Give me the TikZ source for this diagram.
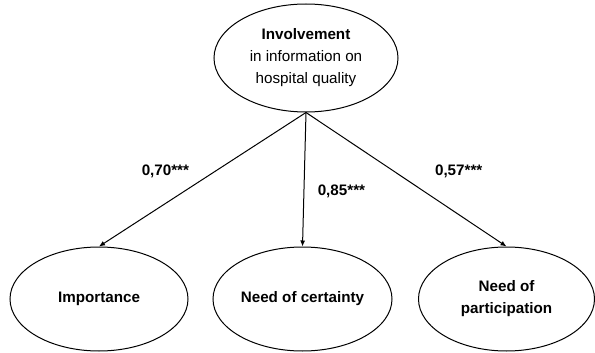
\documentclass[tikz,border=0pt]{standalone}
\usepackage{fontspec}
\setmainfont{Liberation Sans}
\usetikzlibrary{shapes.geometric,arrows.meta}

\begin{document}
\begin{tikzpicture}[x=1pt,y=-1pt,
  font=\fontsize{15.2}{22}\selectfont,
  factor/.style={ellipse,draw,line width=1pt,inner sep=0pt,align=center,
    minimum width=178pt,minimum height=104pt},
  load/.style={-{Latex[length=6pt,width=5pt]},line width=1pt},
  coef/.style={font=\fontsize{15.2}{22}\selectfont\bfseries}]
  \useasboundingbox (0,0) rectangle (595,353);
  \node[factor,minimum width=184pt,minimum height=108pt] (inv) at (306,58)
    {\textbf{Involvement}\\in information on\\hospital quality};
  \node[factor,coef] (imp) at (99,299) {Importance};
  \node[factor,coef,minimum width=179pt] (cert) at (302.5,299) {Need of certainty};
  \node[factor,coef,minimum width=176pt] (part) at (506.5,299) {Need of\\participation};
  \draw[load] (inv.south) -- node[coef,pos=0.44,left=22pt] {0,70***} (imp.north);
  \draw[load] (inv.south) -- node[coef,pos=0.59,right=10pt] {0,85***} (cert.north);
  \draw[load] (inv.south) -- node[coef,pos=0.44,right=37pt] {0,57***} (part.north);
\end{tikzpicture}
\end{document}
